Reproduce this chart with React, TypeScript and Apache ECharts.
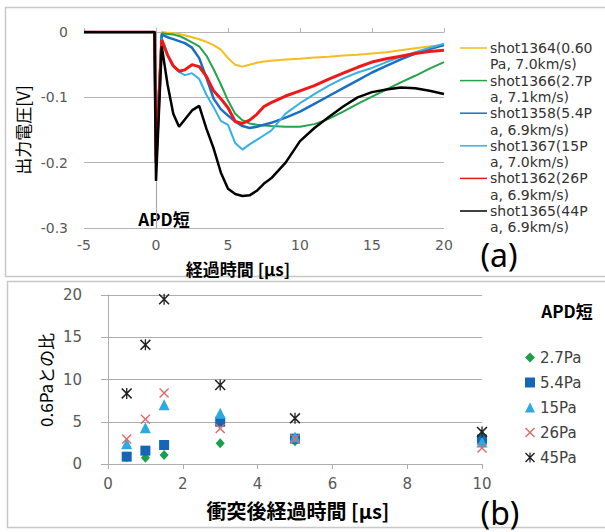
import React, { useEffect, useRef } from "react";
import * as echarts from "echarts";

// ---------- Panel (a): APD output voltage vs elapsed time ----------
const TIME_A = [-5, -0.1, 0, 0.4, 0.8, 1.2, 1.6, 2, 2.5, 3, 3.5, 4, 4.5, 5, 5.5, 6, 6.5, 7, 7.5, 8, 9, 10, 11, 12, 13, 14, 15, 16, 17, 18, 19, 20];
const SHOT_NAMES = [
  "shot1364(0.60Pa, 7.0km/s)",
  "shot1366(2.7Pa, 7.1km/s)",
  "shot1358(5.4Pa, 6.9km/s)",
  "shot1367(15Pa, 7.0km/s)",
  "shot1362(26Pa, 6.9km/s)",
  "shot1365(44Pa, 6.9km/s)",
];
const SHOT_1364 = [0, 0, -0.17, 0, -0.001, -0.002, -0.003, -0.005, -0.008, -0.011, -0.015, -0.02, -0.027, -0.04, -0.05, -0.053, -0.05, -0.047, -0.045, -0.044, -0.042, -0.041, -0.039, -0.038, -0.036, -0.035, -0.033, -0.031, -0.028, -0.025, -0.022, -0.02];
const SHOT_1366 = [0, 0, -0.18, -0.002, -0.003, -0.004, -0.006, -0.01, -0.016, -0.022, -0.036, -0.057, -0.08, -0.105, -0.125, -0.135, -0.14, -0.142, -0.143, -0.144, -0.145, -0.145, -0.141, -0.133, -0.122, -0.11, -0.099, -0.088, -0.077, -0.067, -0.056, -0.046];
const SHOT_1358 = [0, 0, -0.19, -0.004, -0.008, -0.011, -0.014, -0.017, -0.024, -0.04, -0.07, -0.102, -0.118, -0.128, -0.137, -0.144, -0.147, -0.145, -0.142, -0.139, -0.131, -0.122, -0.11, -0.098, -0.086, -0.074, -0.062, -0.052, -0.042, -0.033, -0.026, -0.02];
const SHOT_1367 = [0, 0, -0.18, -0.01, -0.035, -0.053, -0.061, -0.066, -0.063, -0.072, -0.096, -0.115, -0.136, -0.142, -0.17, -0.18, -0.172, -0.165, -0.158, -0.151, -0.125, -0.109, -0.095, -0.082, -0.071, -0.062, -0.055, -0.046, -0.038, -0.031, -0.024, -0.018];
const SHOT_1362 = [0, 0, -0.2, -0.012, -0.035, -0.052, -0.06, -0.058, -0.05, -0.053, -0.068, -0.09, -0.102, -0.116, -0.137, -0.14, -0.135, -0.126, -0.114, -0.108, -0.098, -0.09, -0.082, -0.072, -0.063, -0.054, -0.046, -0.041, -0.037, -0.033, -0.03, -0.028];
const SHOT_1365 = [0, 0, -0.228, -0.022, -0.08, -0.125, -0.145, -0.134, -0.12, -0.113, -0.148, -0.178, -0.215, -0.24, -0.248, -0.251, -0.25, -0.243, -0.232, -0.224, -0.2, -0.167, -0.147, -0.13, -0.114, -0.1, -0.092, -0.088, -0.085, -0.086, -0.09, -0.095];
const SHOT_VALUES = [SHOT_1364, SHOT_1366, SHOT_1358, SHOT_1367, SHOT_1362, SHOT_1365];
const SHOT_COLORS = ["#F4BE1C", "#26A44C", "#1B6FC2", "#35B1E6", "#F01818", "#000000"];
const SHOT_WIDTHS = [2, 2, 2.5, 2, 3, 2.5];
const SHOT_WRAP = [13, 13, 13, 12, 12, 12];

// ---------- Panel (b): ratio to 0.6 Pa vs time after impact ----------
const TIME_B = [0.5, 1, 1.5, 3, 5, 10];
const P_NAMES = ["2.7Pa", "5.4Pa", "15Pa", "26Pa", "45Pa"];
const P27 = [0.8, 0.75, 1.07, 2.45, 2.7, 3.4];
const P54 = [0.87, 1.58, 2.25, 5.0, 3.0, 2.9];
const P15 = [2.4, 4.3, 7.0, 6.0, 3.2, 2.6];
const P26 = [2.95, 5.3, 8.4, 4.2, 3.0, 1.9];
const P45 = [8.35, 14.1, 19.5, 9.35, 5.4, 3.8];
const P_VALUES = [P27, P54, P15, P26, P45];
const P_COLORS = ["#1E9E4A", "#1666B8", "#2DA9E1", "#E06A6A", "#222222"];

const CROSS = "path://M0,1 L1,0 L5,4 L9,0 L10,1 L6,5 L10,9 L9,10 L5,6 L1,10 L0,9 L4,5 Z";
const STAR = "path://M0,1 L1,0 L5,4 L9,0 L10,1 L6,5 L10,9 L9,10 L5,6 L1,10 L0,9 L4,5 Z M4.4,0 L5.6,0 L5.6,10 L4.4,10 Z";
const P_SYMBOLS = ["diamond", "rect", "triangle", CROSS, STAR];
const P_SIZES: any[] = [[9, 10], 10, 11, 10, 11];

const LATIN = "DejaVu Sans";
const CJK = "Noto Sans CJK JP";
const LABEL_COLOR = "#595959";

export default function App() {
  const ref = useRef<HTMLDivElement>(null);
  useEffect(() => {
    if (!ref.current) return;
    const chart = echarts.init(ref.current, undefined, { renderer: "svg" });

    const lineSeries = SHOT_NAMES.map((name, i) => {
      const s: any = {
        name,
        type: "line",
        xAxisIndex: 0,
        yAxisIndex: 0,
        showSymbol: false,
        symbol: "none",
        data: TIME_A.map((t, k) => [t, SHOT_VALUES[i][k]]),
        lineStyle: { color: SHOT_COLORS[i], width: SHOT_WIDTHS[i] },
        itemStyle: { color: SHOT_COLORS[i] },
        z: 2 + i,
      };
      if (i === 0) {
        s.markLine = {
          silent: true,
          symbol: ["none", "none"],
          label: { show: false },
          lineStyle: { color: "#ABABAB", width: 1.2, type: "solid" },
          data: [{ xAxis: 0 }],
        };
      }
      return s;
    });

    const scatterSeries = P_NAMES.map((name, i) => ({
      name,
      type: "scatter",
      xAxisIndex: 2,
      yAxisIndex: 1,
      symbol: P_SYMBOLS[i],
      symbolSize: P_SIZES[i],
      data: TIME_B.map((t, k) => [t, P_VALUES[i][k]]),
      itemStyle: { color: P_COLORS[i], opacity: 1 },
      z: 2 + i,
    }));

    const legendGraphics: any[] = [];
    SHOT_NAMES.forEach((name, i) => {
      const y = 48 + i * 32.6;
      legendGraphics.push({
        type: "line",
        shape: { x1: 460, y1: y, x2: 487, y2: y },
        style: { stroke: SHOT_COLORS[i], lineWidth: 1.5 },
      });
      legendGraphics.push({
        type: "text",
        x: 490,
        y: y - 8.3,
        style: {
          text: name.slice(0, SHOT_WRAP[i]) + "\n" + name.slice(SHOT_WRAP[i]),
          fontSize: 14,
          lineHeight: 16.5,
          fontFamily: LATIN,
          fill: "#333333",
          textAlign: "left",
          textVerticalAlign: "top",
        },
      });
    });

    const option: any = {
      animation: false,
      backgroundColor: "#ffffff",
      grid: [
        { left: 84, top: 32, width: 360, height: 196, containLabel: false },
        { left: 108, top: 295, width: 374, height: 169, containLabel: false },
      ],
      xAxis: [
        {
          gridIndex: 0, type: "value", min: -5, max: 20, interval: 5, position: "bottom",
          axisLine: { show: false, onZero: false },
          axisTick: { show: false },
          splitLine: { show: false },
          axisLabel: { fontSize: 14, color: LABEL_COLOR, margin: 10, fontFamily: LATIN },
        },
        {
          gridIndex: 0, type: "value", min: -5, max: 20, interval: 5, position: "top",
          axisLine: { show: true, onZero: false, lineStyle: { color: "#B4B4B4", width: 1 } },
          axisTick: { show: true, length: 4, lineStyle: { color: "#B4B4B4" } },
          splitLine: { show: false },
          axisLabel: { show: false },
        },
        {
          gridIndex: 1, type: "value", min: 0, max: 10, interval: 2, position: "bottom",
          axisLine: { show: true, onZero: false, lineStyle: { color: "#ADADAD", width: 1 } },
          axisTick: { show: true, length: 5, lineStyle: { color: "#ADADAD" } },
          splitLine: { show: false },
          axisLabel: { fontSize: 15, color: LABEL_COLOR, margin: 12, fontFamily: LATIN },
        },
      ],
      yAxis: [
        {
          gridIndex: 0, type: "value", min: -0.3, max: 0, interval: 0.1,
          axisLine: { show: false, onZero: false },
          axisTick: { show: false },
          splitLine: { show: true, lineStyle: { color: "#B4B4B4", width: 1 } },
          axisLabel: { fontSize: 14, color: LABEL_COLOR, margin: 16, fontFamily: LATIN },
        },
        {
          gridIndex: 1, type: "value", min: 0, max: 20, interval: 5,
          axisLine: { show: true, onZero: false, lineStyle: { color: "#ADADAD", width: 1 } },
          axisTick: { show: true, length: 7, lineStyle: { color: "#ADADAD" } },
          splitLine: { show: true, lineStyle: { color: "#ADADAD", width: 1 } },
          axisLabel: { fontSize: 15, color: LABEL_COLOR, margin: 26, fontFamily: LATIN },
        },
      ],
      legend: {
        data: P_NAMES,
        orient: "vertical",
        left: 520,
        top: 345,
        itemWidth: 10,
        itemHeight: 10,
        itemGap: 10,
        selectedMode: false,
        textStyle: { fontSize: 15, color: "#404040", fontFamily: LATIN },
      },
      graphic: [
        { type: "rect", shape: { x: 5.5, y: 7.5, width: 605, height: 269 }, style: { fill: "none", stroke: "#C8C8C8", lineWidth: 1.5 }, silent: true },
        { type: "rect", shape: { x: 7.5, y: 281.5, width: 605, height: 246 }, style: { fill: "none", stroke: "#C8C8C8", lineWidth: 1.5 }, silent: true },
        { type: "text", x: 22, y: 130, rotation: Math.PI / 2, style: { text: "出力電圧[V]", fontSize: 17, fontFamily: CJK, fill: "#000", textAlign: "center", textVerticalAlign: "middle" } },
        { type: "text", x: 238, y: 268, style: { text: "経過時間 [μs]", fontSize: 17, fontWeight: "bold", fontFamily: CJK, fill: "#000", textAlign: "center", textVerticalAlign: "middle" } },
        { type: "text", x: 164, y: 218, style: { text: "APD短", fontSize: 17, fontWeight: "bold", fontFamily: CJK, fill: "#000", textAlign: "center", textVerticalAlign: "middle" } },
        { type: "text", x: 499, y: 254, style: { text: "(a)", fontSize: 32, fontFamily: "Noto Sans", fill: "#000", textAlign: "center", textVerticalAlign: "middle" } },
        ...legendGraphics,
        { type: "text", x: 45, y: 380, rotation: Math.PI / 2, style: { text: "0.6Paとの比", fontSize: 17, fontFamily: CJK, fill: "#000", textAlign: "center", textVerticalAlign: "middle" } },
        { type: "text", x: 298, y: 510, style: { text: "衝突後経過時間 [μs]", fontSize: 20, fontWeight: "bold", fontFamily: CJK, fill: "#000", textAlign: "center", textVerticalAlign: "middle" } },
        { type: "text", x: 500, y: 512, style: { text: "(b)", fontSize: 32, fontFamily: "Noto Sans", fill: "#000", textAlign: "center", textVerticalAlign: "middle" } },
        { type: "text", x: 567, y: 310, style: { text: "APD短", fontSize: 17, fontWeight: "bold", fontFamily: CJK, fill: "#000", textAlign: "center", textVerticalAlign: "middle" } },
      ],
      series: [...lineSeries, ...scatterSeries],
    };
    chart.setOption(option);
    return () => chart.dispose();
  }, []);
  return <div ref={ref} style={{ position: "absolute", left: 0, top: 0, width: 605, height: 532 }} />;
}
